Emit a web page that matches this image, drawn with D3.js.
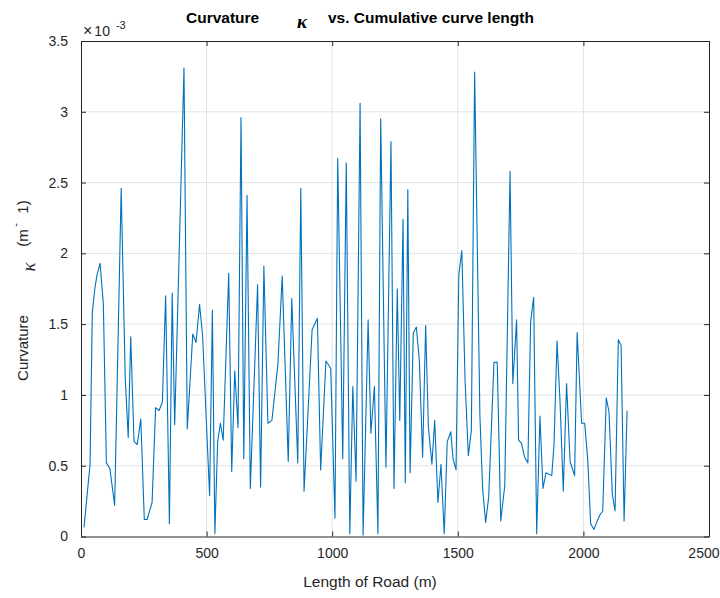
<!DOCTYPE html>
<html><head><meta charset="utf-8">
<script src="https://cdn.jsdelivr.net/npm/d3@7"></script>
<style>body{margin:0;background:#fff}svg{display:block}</style>
</head><body><svg id="c" width="720" height="598"></svg>
<script>
// Cumulative curve length (m)
const lengthM = [12,36,45,55,64,76,89,101,115,134,
160,176,188,198,211,224,238,252,263,283,
297,311,324,337,352,363,373,410,423,445,
458,472,484,512,523,533,544,555,566,588,
600,612,625,637,648,661,674,703,715,728,
744,760,784,801,825,839,863,875,888,920,
941,954,975,994,1011,1022,1042,1056,1070,1082,
1095,1111,1123,1143,1154,1168,1182,1193,1214,1234,
1246,1259,1269,1282,1291,1301,1310,1323,1335,1347,
1360,1372,1383,1397,1408,1421,1433,1446,1458,1472,
1481,1493,1504,1516,1529,1542,1554,1567,1588,1599,
1611,1623,1644,1657,1671,1687,1708,1719,1734,1742,
1753,1766,1779,1790,1802,1814,1827,1839,1851,1863,
1874,1883,1895,1907,1920,1933,1947,1965,1975,1993,
2005,2017,2029,2042,2053,2065,2077,2091,2102,2115,
2126,2139,2150,2162,2174];
// Curvature in units of 1e-3 m^-1
const curvature = [0.064,0.51,1.58,1.75,1.85,1.93,1.64,0.52,0.48,0.22,
2.46,1.12,0.70,1.41,0.67,0.65,0.83,0.12,0.12,0.24,
0.91,0.89,0.95,1.70,0.09,1.72,0.79,3.31,0.76,1.43,
1.37,1.64,1.42,0.29,1.60,0.02,0.67,0.80,0.68,1.86,
0.46,1.17,0.77,2.96,0.55,2.41,0.34,1.78,0.35,1.91,
0.80,0.82,1.22,1.84,0.53,1.68,0.52,2.46,0.32,1.46,
1.54,0.47,1.24,1.19,0.13,2.67,0.55,2.64,0.02,1.06,
0.39,3.06,0.01,1.53,0.73,1.06,0.02,2.95,0.49,2.79,
0.34,1.75,0.82,2.24,0.38,2.45,0.45,1.44,1.48,1.24,
0.56,1.49,0.77,0.51,0.82,0.24,0.51,0.02,0.67,0.74,
0.55,0.47,1.85,2.02,1.10,0.57,0.75,3.28,0.85,0.33,
0.10,0.28,1.23,1.23,0.11,0.36,2.58,1.08,1.53,0.68,
0.66,0.56,0.52,1.52,1.69,0.02,0.85,0.34,0.45,0.44,
0.43,0.65,1.38,0.95,0.32,1.08,0.53,0.43,1.44,0.80,
0.80,0.55,0.09,0.05,0.10,0.15,0.18,0.98,0.88,0.30,
0.18,1.39,1.35,0.11,0.89];
const xTicks = [0,500,1000,1500,2000,2500];
const xTickLabels = ["0","500","1000","1500","2000","2500"];
const yTicks = [0,0.5,1,1.5,2,2.5,3,3.5];
const yTickLabels = ["0","0.5","1","1.5","2","2.5","3","3.5"];

const data = lengthM.map((d,i)=>({x:d,y:curvature[i]}));
const svg = d3.select("#c");
const L=81, R=709, T=41, B=536.5;
const x = d3.scaleLinear().domain([0,2500]).range([L,R]);
const y = d3.scaleLinear().domain([0,3.5]).range([B,T]);
const font = "'Liberation Sans', Arial, Helvetica, sans-serif";
const serif = "'Liberation Serif', 'Times New Roman', serif";
const axCol = "#262626";

// grid
const g = svg.append("g");
g.selectAll(".gx").data(xTicks.slice(1,-1)).enter().append("line")
 .attr("x1",d=>x(d)).attr("x2",d=>x(d)).attr("y1",T).attr("y2",B)
 .attr("stroke","#e3e3e3").attr("stroke-width",1);
g.selectAll(".gy").data(yTicks.slice(1,-1)).enter().append("line")
 .attr("x1",L).attr("x2",R).attr("y1",d=>y(d)).attr("y2",d=>y(d))
 .attr("stroke","#e3e3e3").attr("stroke-width",1);

// line
svg.append("path").datum(data)
 .attr("fill","none").attr("stroke","#0072BD").attr("stroke-width",1.1)
 .attr("stroke-linejoin","round")
 .attr("d", d3.line().x(d=>x(d.x)).y(d=>y(d.y)));

function styleAxis(sel){
  sel.selectAll("path").attr("stroke",axCol).attr("stroke-width",1);
  sel.selectAll("line").attr("stroke",axCol).attr("stroke-width",1);
  sel.selectAll("text").attr("fill",axCol).style("font-family",font).style("font-size","14px");
}
const xb = svg.append("g").attr("transform",`translate(0,${B})`)
 .call(d3.axisBottom(x).tickValues(xTicks).tickFormat((d,i)=>xTickLabels[i]).tickSizeInner(-5).tickSizeOuter(0).tickPadding(12));
styleAxis(xb);
// keep last label inside the window
xb.selectAll(".tick text").filter(d=>d===2500).attr("text-anchor","end").attr("x",719-x(2500));
const xt = svg.append("g").attr("transform",`translate(0,${T})`)
 .call(d3.axisTop(x).tickValues(xTicks).tickFormat("").tickSizeInner(-5).tickSizeOuter(0));
styleAxis(xt);
const yl = svg.append("g").attr("transform",`translate(${L},0)`)
 .call(d3.axisLeft(y).tickValues(yTicks).tickFormat((d,i)=>yTickLabels[i]).tickSizeInner(-5).tickSizeOuter(0).tickPadding(13));
styleAxis(yl);
const yr = svg.append("g").attr("transform",`translate(${R},0)`)
 .call(d3.axisRight(y).tickValues(yTicks).tickFormat("").tickSizeInner(-5).tickSizeOuter(0));
styleAxis(yr);

// exponent label
const ex = svg.append("text").attr("x",83).attr("y",36).attr("fill",axCol)
 .style("font-family",font).style("font-size","14px");
ex.append("tspan").style("font-size","16px").text("\u00D7");
ex.append("tspan").attr("dx",2).text("10");
ex.append("tspan").attr("dx",6).attr("dy",-7).style("font-size","11px").text("-3");

// title
svg.append("text").attr("x",186).attr("y",23).attr("fill","#000")
 .style("font-family",font).style("font-size","15.5px").style("font-weight","bold").text("Curvature");
svg.append("text").attr("x",297).attr("y",28).attr("fill","#000")
 .style("font-family",serif).style("font-size","19px")
 .style("font-weight","bold").style("font-style","italic").text("\u03BA");
svg.append("text").attr("x",328).attr("y",23).attr("fill","#000")
 .style("font-family",font).style("font-size","15.5px").style("font-weight","bold").text("vs. Cumulative curve length");

// x label
svg.append("text").attr("x",370).attr("y",587).attr("text-anchor","middle").attr("fill",axCol)
 .style("font-family",font).style("font-size","15.5px").text("Length of Road (m)");

// y label (rotated pieces)
function rot(txt, cx, cy, size, opts){
  const t = svg.append("text").attr("transform",`translate(${cx},${cy}) rotate(-90)`)
   .attr("text-anchor","middle").attr("fill",axCol)
   .style("font-family",(opts&&opts.family)||font).style("font-size",size+"px").text(txt);
  if(opts&&opts.italic) t.style("font-style","italic");
  return t;
}
rot("Curvature",28,348,15);
rot("\u03BA",35,267,19,{italic:true,family:serif});
rot("(m",28,238,15);
rot("-",19,225,11);
rot("1)",28,207,15);
</script>
</body></html>
